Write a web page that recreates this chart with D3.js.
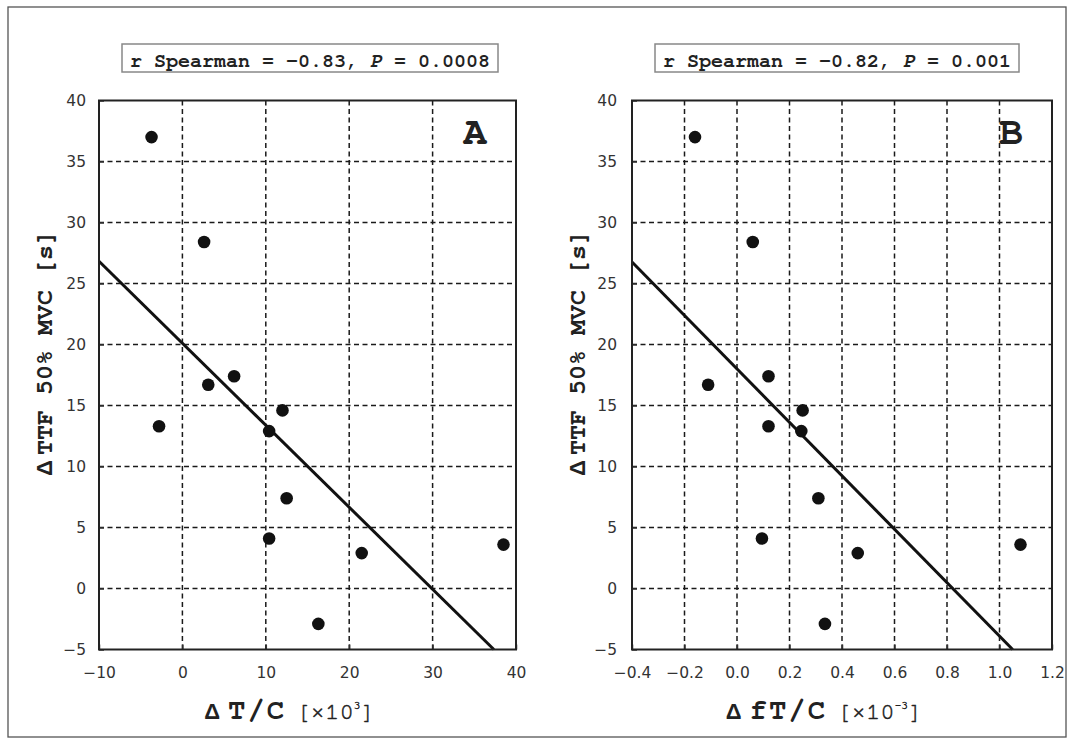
<!DOCTYPE html>
<html lang="en">
<head>
<meta charset="UTF-8">
<title>TTF scatter</title>
<script src="https://d3js.org/d3.v7.min.js"></script>
<style>
  body { margin: 0; background: #fff; }
</style>
</head>
<body>
<script>
// data
var ttf = [37.0, 28.4, 16.7, 17.4, 13.3, 14.6, 12.9, 7.4, 4.1, 2.9, 3.6, -2.9];
var tc  = [-3.7, 2.6, 3.1, 6.2, -2.8, 12.0, 10.4, 12.5, 10.4, 21.5, 38.5, 16.3];
var ftc = [-0.16, 0.06, -0.11, 0.12, 0.12, 0.25, 0.245, 0.31, 0.095, 0.46, 1.08, 0.335];

var yTicks  = [-5, 0, 5, 10, 15, 20, 25, 30, 35, 40];
var xTicksA = [-10, 0, 10, 20, 30, 40];
var xTicksB = [-0.4, -0.2, 0.0, 0.2, 0.4, 0.6, 0.8, 1.0, 1.2];

// regression lines [intercept, slope]
var fitA = [20.1, -0.672];
var fitB = [18.0, -21.9];

var statsA = ["r Spearman = -0.83, ", "P", " = 0.0008"];
var statsB = ["r Spearman = -0.82, ", "P", " = 0.001"];

var W = 1074, H = 744;
var top_ = 100.5, bottom = 649.5;
var mono = "'Nimbus Mono PS', FreeMono, 'Courier New', 'Liberation Mono', monospace";
var sans = "'Liberation Sans', Arial, sans-serif";

var svg = d3.select("body").append("svg")
  .attr("width", W).attr("height", H);

svg.append("rect")
  .attr("x", 8).attr("y", 7).attr("width", 1058).attr("height", 730)
  .attr("fill", "none").attr("stroke", "#555").attr("stroke-width", 1.3);

function panel(o) {
  var x = d3.scaleLinear().domain(o.xDomain).range([o.left, o.right]);
  var y = d3.scaleLinear().domain([-5, 40]).range([bottom, top_]);
  var g = svg.append("g");

  // dashed grid
  g.append("g").selectAll("line").data(o.xTicks.slice(1, -1)).join("line")
    .attr("x1", function(d){ return x(d); }).attr("x2", function(d){ return x(d); })
    .attr("y1", top_).attr("y2", bottom)
    .attr("stroke", "#1a1a1a").attr("stroke-width", 1.5).attr("stroke-dasharray", "5,3.5");
  g.append("g").selectAll("line").data(yTicks.slice(1, -1)).join("line")
    .attr("y1", function(d){ return y(d); }).attr("y2", function(d){ return y(d); })
    .attr("x1", o.left).attr("x2", o.right)
    .attr("stroke", "#1a1a1a").attr("stroke-width", 1.5).attr("stroke-dasharray", "5,3.5");

  // axes
  var ax = g.append("g").attr("transform", "translate(0," + bottom + ")")
    .call(d3.axisBottom(x).tickValues(o.xTicks).tickFormat(o.fmt)
      .tickSizeInner(-5).tickSizeOuter(0).tickPadding(17.5));
  var ay = g.append("g").attr("transform", "translate(" + o.left + ",0)")
    .call(d3.axisLeft(y).tickValues(yTicks).tickFormat(d3.format("d"))
      .tickSizeInner(-5).tickSizeOuter(0).tickPadding(o.yPad));
  [ax, ay].forEach(function(a){
    a.select(".domain").remove();
    a.attr("font-family", "'DejaVu Sans', Verdana, sans-serif").attr("font-size", 15.5)
      .attr("color", "#333");
    a.selectAll("line").attr("stroke-width", 1.5);
  });

  // regression line
  var fit = o.fit;
  var x0 = o.xDomain[0];
  var x1 = Math.min(o.xDomain[1], (-5 - fit[0]) / fit[1]);
  g.append("line")
    .attr("x1", x(x0)).attr("y1", y(fit[0] + fit[1] * x0))
    .attr("x2", x(x1)).attr("y2", y(fit[0] + fit[1] * x1))
    .attr("stroke", "#111").attr("stroke-width", 3);

  // points
  g.append("g").selectAll("circle").data(o.xs).join("circle")
    .attr("cx", function(d){ return x(d); })
    .attr("cy", function(d, i){ return y(ttf[i]); })
    .attr("r", 6.3).attr("fill", "#111");

  // frame
  g.append("rect")
    .attr("x", o.left).attr("y", top_)
    .attr("width", o.right - o.left).attr("height", bottom - top_)
    .attr("fill", "none").attr("stroke", "#222").attr("stroke-width", 2);

  // panel letter
  g.append("text")
    .attr("x", o.right - 29).attr("y", 144)
    .attr("text-anchor", "end")
    .attr("font-family", mono).attr("font-weight", "bold").attr("font-size", 40)
    .attr("fill", "#222").text(o.letter);

  // stats box
  var box = g.append("rect");
  var st = g.append("text")
    .attr("x", o.left + 31).attr("y", 67)
    .attr("font-family", mono).attr("font-weight", "bold").attr("font-size", 20)
    .attr("fill", "#222");
  st.append("tspan").text(o.stats[0]);
  st.append("tspan").attr("font-style", "italic").text(o.stats[1]);
  st.append("tspan").text(o.stats[2]);
  var bb = st.node().getBBox();
  box.attr("x", o.left + 23).attr("y", 44)
    .attr("width", bb.width + 16).attr("height", 28)
    .attr("fill", "#fff").attr("stroke", "#888").attr("stroke-width", 1.5);

  // x title
  var xt = g.append("text")
    .attr("x", (o.left + o.right) / 2 - 18).attr("y", 719)
    .attr("text-anchor", "middle").attr("fill", "#222");
  xt.append("tspan").attr("font-family", sans).attr("font-weight", "bold")
    .attr("font-size", 22).text("\u0394");
  xt.append("tspan").attr("dx", 8).attr("font-family", mono).attr("font-weight", "bold")
    .attr("font-size", 29).attr("letter-spacing", 2).text(o.xName);
  var unit = [["[\u00d710", 24, 0], [o.exp, 11, -10], ["]", 24, 10]];
  unit.forEach(function(u, i){
    xt.append("tspan").attr("dx", i === 0 ? 10 : 0).attr("dy", u[2])
      .attr("font-family", mono).attr("font-size", u[1])
      .attr("stroke", "#222").attr("stroke-width", 0.5).text(u[0]);
  });

  // y title
  var yt = g.append("text")
    .attr("transform", "translate(" + (o.left - 47) + ",353) rotate(-90)")
    .attr("text-anchor", "middle").attr("fill", "#222");
  yt.append("tspan").attr("font-family", sans).attr("font-weight", "bold")
    .attr("font-size", 22).text("\u0394");
  yt.append("tspan").attr("dx", 5).attr("font-family", mono).attr("font-weight", "bold")
    .attr("font-size", 25).text("TTF 50% MVC [s]");
}

panel({
  left: 99, right: 516, xDomain: [-10, 40], xTicks: xTicksA, fmt: d3.format("d"),
  xs: tc, fit: fitA, letter: "A", stats: statsA, xName: "T/C", exp: "3", yPad: 13
});
panel({
  left: 632, right: 1052, xDomain: [-0.4, 1.2], xTicks: xTicksB, fmt: d3.format(".1f"),
  xs: ftc, fit: fitB, letter: "B", stats: statsB, xName: "fT/C", exp: "-3", yPad: 15
});
</script>
</body>
</html>
